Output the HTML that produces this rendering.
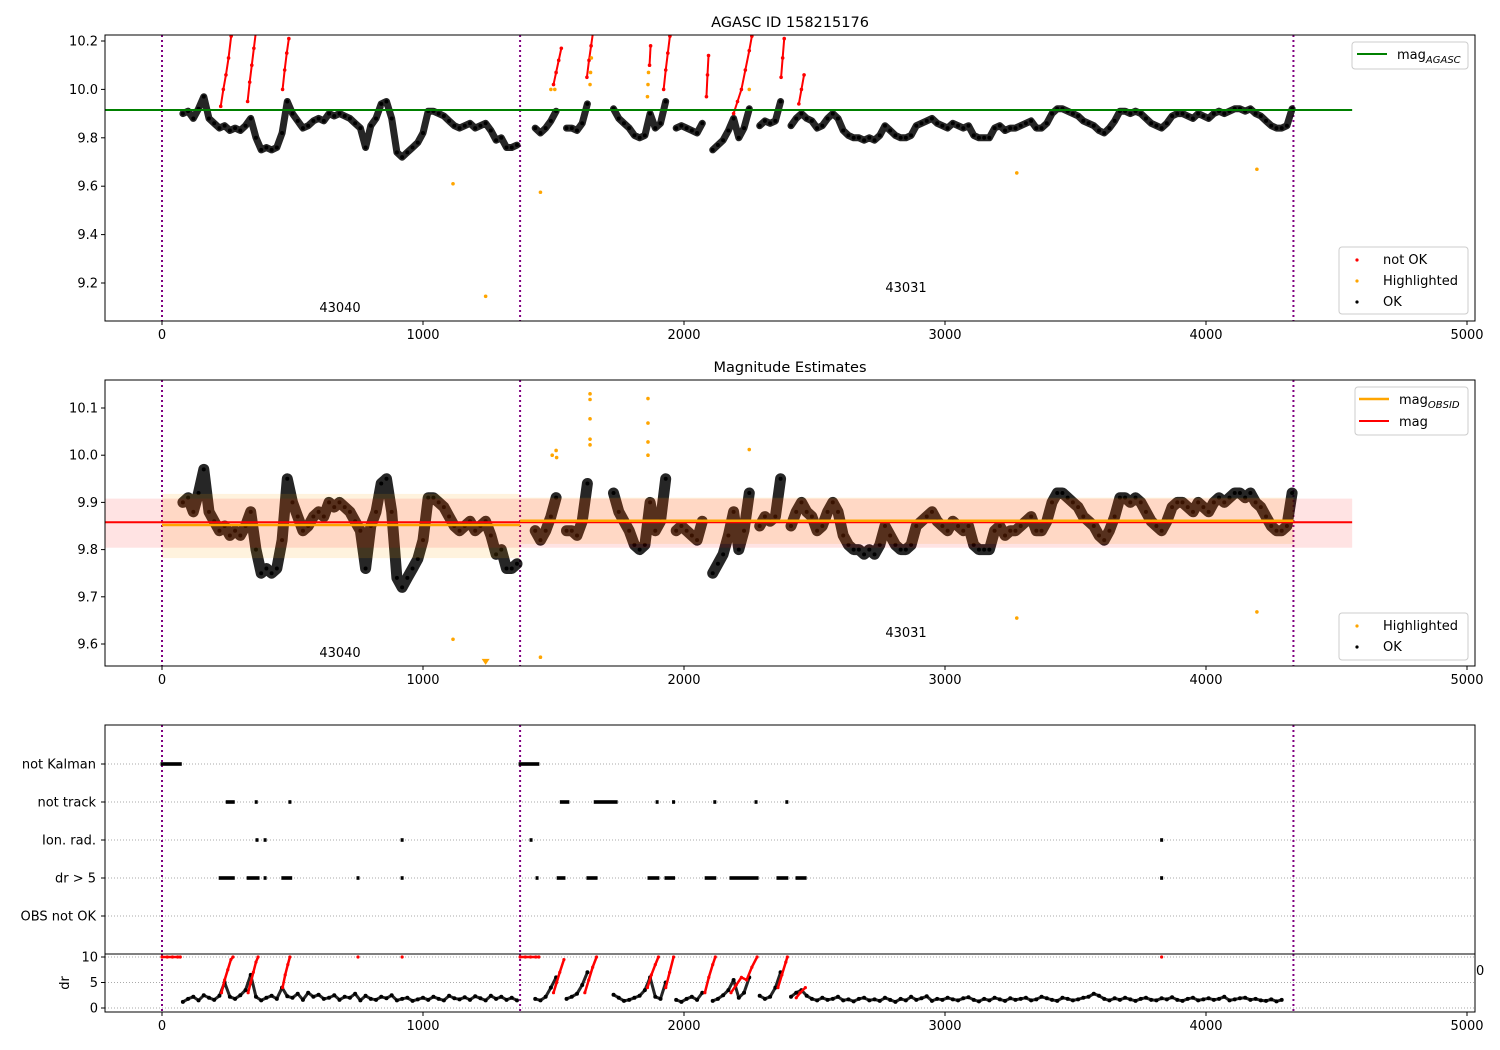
<!DOCTYPE html>
<html><head><meta charset="utf-8"><style>
html,body{margin:0;padding:0;background:#fff;}
svg{display:block;font-family:"DejaVu Sans","Liberation Sans",sans-serif;}
</style></head><body>
<svg id="chart" width="1500" height="1050" viewBox="0 0 1500 1050" xmlns="http://www.w3.org/2000/svg">
<defs>
<clipPath id="c1"><rect x="105" y="35" width="1370" height="286"/></clipPath>
<clipPath id="c2"><rect x="105" y="380" width="1370" height="286"/></clipPath>
<clipPath id="c3"><rect x="105" y="725" width="1370" height="229"/></clipPath>
<clipPath id="c4"><rect x="105" y="954" width="1370" height="58"/></clipPath>
</defs>
<g id="g1" clip-path="url(#c1)"></g>
<g id="g2" clip-path="url(#c2)"></g>
<g id="g3" clip-path="url(#c3)"></g>
<g id="g4" clip-path="url(#c4)"></g>
<g id="axes"></g>
<text x="790" y="27" text-anchor="middle" font-size="14.5">AGASC ID 158215176</text>
<text x="790" y="372" text-anchor="middle" font-size="14.5">Magnitude Estimates</text>
<text x="340" y="312" text-anchor="middle" font-size="13">43040</text>
<text x="906" y="292" text-anchor="middle" font-size="13">43031</text>
<text x="340" y="657" text-anchor="middle" font-size="13">43040</text>
<text x="906" y="637" text-anchor="middle" font-size="13">43031</text>
<text x="1476" y="975" font-size="13">0</text>
<text x="0" y="0" font-size="13" text-anchor="middle" transform="translate(69,983) rotate(-90)">dr</text>

<g>
<rect x="1352" y="42" width="116" height="27" rx="3" fill="#fff" fill-opacity="0.8" stroke="#ccc"/>
<line x1="1357" y1="54" x2="1387" y2="54" stroke="green" stroke-width="2"/>
<text x="1397" y="59" font-size="13">mag<tspan font-size="10" font-style="italic" dy="4">AGASC</tspan></text>
</g>
<g>
<rect x="1339" y="247" width="129" height="67" rx="3" fill="#fff" fill-opacity="0.8" stroke="#ccc"/>
<circle cx="1357" cy="260" r="1.6" fill="red"/><text x="1383" y="264" font-size="13">not OK</text>
<circle cx="1357" cy="281" r="1.6" fill="orange"/><text x="1383" y="285" font-size="13">Highlighted</text>
<circle cx="1357" cy="302" r="1.6" fill="#000"/><text x="1383" y="306" font-size="13">OK</text>
</g>
<g>
<rect x="1355" y="387" width="113" height="48" rx="3" fill="#fff" fill-opacity="0.8" stroke="#ccc"/>
<line x1="1359" y1="399" x2="1389" y2="399" stroke="orange" stroke-width="2.5"/>
<text x="1399" y="404" font-size="13">mag<tspan font-size="10" font-style="italic" dy="4">OBSID</tspan></text>
<line x1="1359" y1="421" x2="1389" y2="421" stroke="red" stroke-width="2"/>
<text x="1399" y="426" font-size="13">mag</text>
</g>
<g>
<rect x="1339" y="613" width="129" height="47" rx="3" fill="#fff" fill-opacity="0.8" stroke="#ccc"/>
<circle cx="1357" cy="626" r="1.6" fill="orange"/><text x="1383" y="630" font-size="13">Highlighted</text>
<circle cx="1357" cy="647" r="1.6" fill="#000"/><text x="1383" y="651" font-size="13">OK</text>
</g>
</svg>
<script>
// ---- data ----
const times1 = [80,100,120,140,160,180,200,220,240,260,280,300,320,340,360,380,400,420,440,460,480,500,520,540,560,580,600,620,640,660,680,700,720,740,760,780,800,820,840,860,880,900,920,940,960,980,1000,1020,1040,1060,1080,1100,1120,1140,1160,1180,1200,1220,1240,1260,1280,1300,1320,1340,1360];
const mags1 = [9.90,9.91,9.88,9.92,9.97,9.88,9.86,9.84,9.85,9.83,9.84,9.83,9.85,9.88,9.80,9.75,9.76,9.75,9.76,9.82,9.95,9.90,9.87,9.84,9.85,9.87,9.88,9.87,9.90,9.89,9.90,9.89,9.88,9.86,9.84,9.76,9.85,9.88,9.94,9.95,9.88,9.74,9.72,9.74,9.76,9.78,9.82,9.91,9.91,9.90,9.89,9.87,9.85,9.84,9.85,9.86,9.84,9.85,9.86,9.83,9.79,9.80,9.76,9.76,9.77];
const times2 = [1430,1450,1470,1490,1510,1530,1550,1570,1590,1610,1630,1650,1670,1690,1710,1730,1750,1770,1790,1810,1830,1850,1870,1890,1910,1930,1950,1970,1990,2010,2030,2050,2070,2090,2110,2130,2150,2170,2190,2210,2230,2250,2270,2290,2310,2330,2350,2370,2390,2410,2430,2450,2470,2490,2510,2530,2550,2570,2590,2610,2630,2650,2670,2690,2710,2730,2750,2770,2790,2810,2830,2850,2870,2890,2910,2930,2950,2970,2990,3010,3030,3050,3070,3090,3110,3130,3150,3170,3190,3210,3230,3250,3270,3290,3310,3330,3350,3370,3390,3410,3430,3450,3470,3490,3510,3530,3550,3570,3590,3610,3630,3650,3670,3690,3710,3730,3750,3770,3790,3810,3830,3850,3870,3890,3910,3930,3950,3970,3990,4010,4030,4050,4070,4090,4110,4130,4150,4170,4190,4210,4230,4250,4270,4290,4310,4330];
const mags2 = [9.84,9.82,9.84,9.87,9.91,null,9.84,9.84,9.83,9.86,9.94,null,null,null,null,9.92,9.88,9.86,9.84,9.81,9.80,9.81,9.90,9.84,9.86,9.95,null,9.84,9.85,9.84,9.83,9.82,9.86,null,9.75,9.77,9.79,9.83,9.88,9.80,9.84,9.92,null,9.85,9.87,9.86,9.87,9.95,null,9.85,9.88,9.90,9.88,9.87,9.84,9.85,9.88,9.90,9.88,9.83,9.81,9.80,9.80,9.79,9.80,9.79,9.81,9.85,9.83,9.81,9.80,9.80,9.81,9.85,9.86,9.87,9.88,9.86,9.85,9.84,9.86,9.85,9.84,9.85,9.81,9.80,9.80,9.80,9.84,9.85,9.83,9.84,9.84,9.85,9.86,9.87,9.84,9.84,9.86,9.90,9.92,9.92,9.91,9.90,9.89,9.87,9.86,9.85,9.83,9.82,9.84,9.87,9.91,9.91,9.90,9.91,9.90,9.88,9.86,9.85,9.84,9.86,9.89,9.90,9.90,9.89,9.88,9.90,9.89,9.88,9.90,9.91,9.90,9.91,9.92,9.92,9.91,9.92,9.90,9.89,9.87,9.85,9.84,9.84,9.85,9.92];
const dr1 = [1.2,1.8,2.2,1.5,2.5,2.0,1.6,2.4,5.0,2.2,1.8,2.5,3.5,6.5,2.2,1.5,2.0,2.4,1.8,4.0,2.3,2.0,2.8,1.6,3.0,2.2,2.6,1.8,2.0,2.5,1.6,2.2,2.0,2.8,1.5,2.4,1.8,1.6,2.2,1.9,2.5,1.5,1.8,2.0,1.4,1.7,2.0,1.6,2.2,1.8,1.5,2.4,1.9,1.7,2.1,1.6,2.3,1.9,1.5,2.4,1.8,2.2,1.6,2.0,1.5];
const dr2 = [1.8,1.5,2.2,4.0,6.0,null,1.8,2.2,2.8,4.5,7.0,null,null,null,null,2.6,2.0,1.4,1.6,2.0,2.4,3.5,6.0,2.2,1.8,5.0,null,1.6,1.2,1.8,2.2,1.6,3.0,null,1.4,1.8,2.5,3.5,5.5,2.0,3.0,6.0,null,2.4,1.8,2.2,4.0,7.0,null,2.2,3.0,3.5,2.4,1.8,1.5,2.0,1.6,1.8,2.2,1.5,1.7,1.3,1.8,2.0,1.5,1.7,1.4,2.0,1.6,1.2,1.8,1.5,2.2,1.6,1.9,2.3,1.4,1.8,1.6,2.0,1.7,1.5,1.9,2.1,1.6,1.3,1.8,1.5,2.0,1.7,1.4,1.9,1.6,1.8,2.0,1.5,1.7,2.2,1.9,1.6,1.4,2.0,1.8,1.5,1.7,2.0,2.2,2.8,2.4,1.8,1.5,1.9,1.6,2.0,1.7,1.4,1.8,2.0,1.6,1.5,1.9,1.7,2.1,1.6,1.4,1.8,2.0,1.5,1.7,1.9,1.6,1.8,2.2,1.5,1.7,1.9,2.0,1.6,1.8,1.5,1.4,1.7,1.3,1.6];
const redT = [225,235,245,255,265,null,328,336,344,352,360,null,462,470,478,486,null,1500,1510,1520,1530,null,1628,1636,1644,1652,null,1868,1872,null,1922,1930,1938,1946,null,2086,2090,2094,null,2190,2205,2220,2235,2250,2260,null,2372,2378,2384,null,2440,2450,2460];
const redM = [9.93,10.0,10.06,10.13,10.22,null,9.95,10.03,10.10,10.17,10.24,null,10.0,10.08,10.15,10.21,null,10.02,10.07,10.12,10.17,null,10.05,10.12,10.18,10.24,null,10.10,10.18,null,10.0,10.08,10.15,10.22,null,9.97,10.06,10.14,null,9.90,9.95,10.0,10.08,10.16,10.22,null,10.05,10.13,10.21,null,9.94,10.0,10.06];
const redDrT = [0,20,40,60,70,null,228,240,252,264,272,null,330,340,350,360,368,null,462,472,482,490,null,751,null,920,null,1372,1392,1412,1432,1444,null,1500,1512,1524,1540,null,1620,1635,1650,1665,null,1860,1875,1890,1902,null,1930,1945,1960,null,2080,2095,2110,2120,null,2180,2200,2220,2240,2260,2280,null,2360,2375,2390,2396,null,2430,2445,2465,null,3830];
const redDrV = [10,10,10,10,10,null,3,5.5,7.5,9.5,10,null,3,5,7,9,10,null,4,6.5,8.5,10,null,10,null,10,null,10,10,10,10,10,null,3,5,7,9.5,null,3,5.5,8,10,null,4,6.5,8.5,10,null,4,7,10,null,3,6,8.5,10,null,3,4.5,6,5.5,8,10,null,4,6.5,9,10,null,2,3,4,null,10];
const hiT1 = [1115,1240,1450,1490,1505,1640,1642,1645,1860,1862,1864,2250,3275,4195];
const hiM1 = [9.61,9.145,9.575,10.0,10.0,10.02,10.07,10.13,9.97,10.02,10.07,10.0,9.655,9.67];
const hiT2 = [1115,1450,1495,1510,1512,1640,1640,1640,1640,1640,1862,1862,1862,1862,2250,3275,4195];
const hiM2 = [9.61,9.572,10.0,10.01,9.995,10.13,10.118,10.077,10.034,10.022,10.12,10.068,10.028,10.0,10.012,9.655,9.668];
const magAgasc = 9.915;
const magMean = 9.858, magLo = 9.804, magHi = 9.908;
const obsStart = [0,1372], obsEnd = [1372,4335];
const obsMag = [9.852,9.861], obsLo = [9.782,9.812], obsHi = [9.918,9.91];
const obsBounds = [0,1372,4335];
const flagNames = ["not Kalman","not track","Ion. rad.","dr > 5","OBS not OK"];
const notKalman = [[0,70],[1372,1440]];
const notTrack = [[250,273],[361,361],[490,490],[1530,1555],[1660,1740],[1897,1897],[1960,1960],[2118,2118],[2276,2276],[2394,2394]];
const ionRad = [[364,364],[395,395],[920,920],[1414,1414],[3830,3830]];
const drGt5 = [[223,273],[330,368],[395,395],[463,493],[751,751],[920,920],[1437,1437],[1518,1540],[1632,1663],[1866,1900],[1931,1960],[2085,2118],[2180,2280],[2360,2394],[2433,2464],[3830,3830]];
const obsNotOk = [];
const xTicks = [0,1000,2000,3000,4000,5000];
const y1Ticks = [9.2,9.4,9.6,9.8,10.0,10.2];
const y2Ticks = [9.6,9.7,9.8,9.9,10.0,10.1];
const drTicks = [0,5,10];

const X = t => 162 + t*0.261;
const Y1 = m => 41 + (10.2-m)*242;
const Y2 = m => 408 + (10.1-m)*472;
const YD = v => 1008 - v*5.1;
const catY = [764,802,840,878,916];
const NS = "http://www.w3.org/2000/svg";
function mk(tag, parent, attrs){const e=document.createElementNS(NS,tag);for(const k in attrs)e.setAttribute(k,attrs[k]);parent.appendChild(e);return e;}
const g1=document.getElementById('g1'),g2=document.getElementById('g2'),g3=document.getElementById('g3'),g4=document.getElementById('g4'),ax=document.getElementById('axes');

function polyPaths(ts, vs, sx, sy){
  const paths=[];let cur=[];
  for(let i=0;i<ts.length;i++){
    if(ts[i]===null||vs[i]===null){if(cur.length)paths.push(cur);cur=[];continue;}
    cur.push([sx(ts[i]),sy(vs[i])]);
  }
  if(cur.length)paths.push(cur);return paths;
}
function drawSeries(g, ts, vs, sy, width, color, name){
  polyPaths(ts,vs,X,sy).forEach(p=>{
    const d='M'+p.map(q=>q[0].toFixed(1)+','+q[1].toFixed(1)).join('L');
    const e=mk('path',g,{d:d,fill:'none',stroke:color,'stroke-width':width,'stroke-linejoin':'round','stroke-linecap':'round','stroke-opacity':0.85});
    
    
    p.forEach(q=>{
      const c=mk('circle',g,{cx:q[0],cy:q[1],r:2,fill:color});
      
      
    });
  });
}
function drawPts(g, ts, vs, sy, color, name, r){
  for(let i=0;i<ts.length;i++){
    if(ts[i]===null||vs[i]===null)continue;
    const c=mk('circle',g,{cx:X(ts[i]),cy:sy(vs[i]),r:r||1.8,fill:color});
    
    
  }
}
function vlines(g, y0, y1){
  obsBounds.forEach(t=>{
    const l=mk('line',g,{x1:X(t),x2:X(t),y1:y0,y2:y1,stroke:'purple','stroke-width':2,'stroke-dasharray':'2,3'});
    
    
  });
}

// panel 1
vlines(g1,35,321);
drawSeries(g1,times1,mags1,Y1,7,'#000','ok');
drawSeries(g1,times2,mags2,Y1,7,'#000','ok');
polyPaths(redT,redM,X,Y1).forEach(p=>{
  const e=mk('path',g1,{d:'M'+p.map(q=>q[0]+','+q[1]).join('L'),fill:'none',stroke:'red','stroke-width':2});
  
  
});
drawPts(g1,redT,redM,Y1,'red','not-ok-point',1.8);
drawPts(g1,hiT1,hiM1,Y1,'orange','highlighted-point',1.8);
let l=mk('line',g1,{x1:X(-220),x2:X(4560),y1:Y1(magAgasc),y2:Y1(magAgasc),stroke:'green','stroke-width':2});



// panel 2
vlines(g2,380,666);
drawSeries(g2,times1,mags1,Y2,11,'#000','ok');
drawSeries(g2,times2,mags2,Y2,11,'#000','ok');
for(let i=0;i<obsStart.length;i++){
  const r=mk('rect',g2,{x:X(obsStart[i]),y:Y2(obsHi[i]),width:X(obsEnd[i])-X(obsStart[i]),height:Y2(obsLo[i])-Y2(obsHi[i]),fill:'orange','fill-opacity':0.13});
  
  
}
let r=mk('rect',g2,{x:X(-220),y:Y2(magHi),width:X(4560)-X(-220),height:Y2(magLo)-Y2(magHi),fill:'red','fill-opacity':0.11});


l=mk('line',g2,{x1:X(-220),x2:X(4560),y1:Y2(magMean),y2:Y2(magMean),stroke:'red','stroke-width':2});


for(let i=0;i<obsStart.length;i++){
  const o=mk('line',g2,{x1:X(obsStart[i]),x2:X(obsEnd[i]),y1:Y2(obsMag[i]),y2:Y2(obsMag[i]),stroke:'orange','stroke-width':2.5});
  
  
}
drawPts(g2,hiT2,hiM2,Y2,'orange','highlighted-point',1.8);
const tri=mk('path',g2,{d:`M${X(1240)-4},${Y2(9.562)-3}L${X(1240)+4},${Y2(9.562)-3}L${X(1240)},${Y2(9.562)+3}Z`,fill:'orange'});



// panel 3
catY.forEach((y,i)=>{
  const gl=mk('line',g3,{x1:105,x2:1475,y1:y,y2:y,stroke:'#aaa','stroke-width':1,'stroke-dasharray':'1,2'});
  
  
});
vlines(g3,725,954);
[notKalman,notTrack,ionRad,drGt5,obsNotOk].forEach((ranges,i)=>{
  ranges.forEach(rg=>{
    const x0=X(rg[0])-1.5, w=Math.max(3,X(rg[1])-X(rg[0])+3);
    const m=mk('rect',g3,{x:x0,y:catY[i]-1.8,width:w,height:3.6,fill:'#000'});
    
    
  });
});

// panel 4
drTicks.forEach(v=>{
  const gl=mk('line',g4,{x1:105,x2:1475,y1:YD(v),y2:YD(v),stroke:'#aaa','stroke-width':1,'stroke-dasharray':'1,2'});
  
  
});
vlines(g4,954,1012);
drawSeries(g4,times1,dr1,YD,3,'#000','dr');
drawSeries(g4,times2,dr2,YD,3,'#000','dr');
polyPaths(redDrT,redDrV,X,YD).forEach(p=>{
  const e=mk('path',g4,{d:'M'+p.map(q=>q[0]+','+q[1]).join('L'),fill:'none',stroke:'red','stroke-width':2.5});
  
  
});
drawPts(g4,redDrT,redDrV,YD,'red','dr-not-ok-point',1.6);

// axes
function frame(y0,h,name){
  const f=mk('rect',ax,{x:105,y:y0,width:1370,height:h,fill:'none',stroke:'#000','stroke-width':1});
  
  
}
frame(35,286,'agasc-panel-frame');frame(380,286,'estimates-panel-frame');frame(725,229,'flags-panel-frame');frame(954,58,'dr-panel-frame');
function xAxis(yb){
  xTicks.forEach(t=>{
    const tk=mk('line',ax,{x1:X(t),x2:X(t),y1:yb,y2:yb+4,stroke:'#000'});
    
    
    const tx=mk('text',ax,{x:X(t),y:yb+18,'text-anchor':'middle','font-size':13});
    tx.textContent=t;
    
    
  });
}
xAxis(321);xAxis(666);xAxis(1012);
function yAxis(ticks,sy,fmt){
  ticks.forEach(v=>{
    const y=sy(v);
    const tk=mk('line',ax,{x1:101,x2:105,y1:y,y2:y,stroke:'#000'});
    
    
    const tx=mk('text',ax,{x:98,y:y+4.5,'text-anchor':'end','font-size':13});
    tx.textContent=fmt(v);
    
    
  });
}
yAxis(y1Ticks,Y1,v=>v.toFixed(1));
yAxis(y2Ticks,Y2,v=>v.toFixed(1));
yAxis(drTicks,YD,v=>String(v));
flagNames.forEach((n,i)=>{
  const tk=mk('line',ax,{x1:101,x2:105,y1:catY[i],y2:catY[i],stroke:'#000'});
  
  
  const tx=mk('text',ax,{x:96,y:catY[i]+4.5,'text-anchor':'end','font-size':13});
  tx.textContent=n;
  
  
});
</script>
</body></html>
